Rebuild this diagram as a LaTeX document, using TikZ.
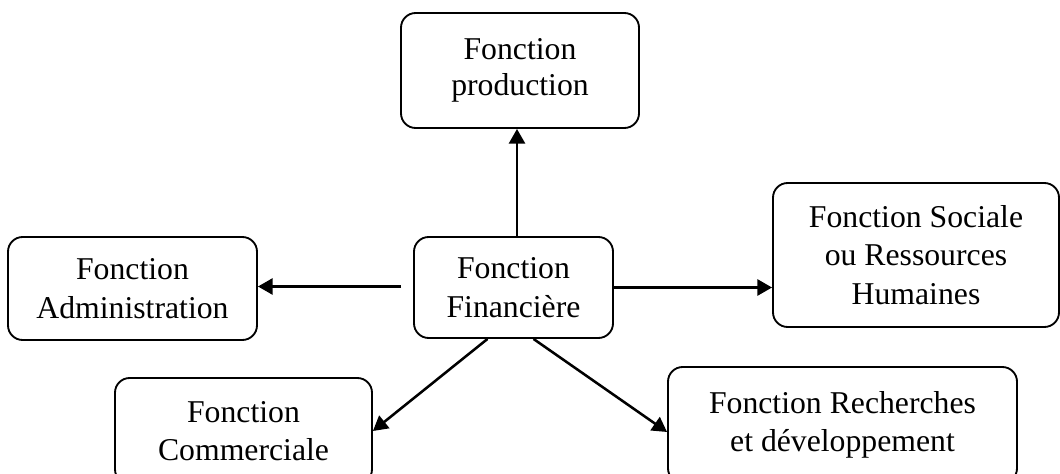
\documentclass[tikz,border=0pt]{standalone}
\usepackage{fontspec}
\setmainfont{Liberation Serif}
\usetikzlibrary{arrows.meta,calc}
\begin{document}
\begin{tikzpicture}[x=0.75pt,y=-0.75pt,
  fbox/.style={draw,line width=1.4pt,rounded corners=11pt,inner sep=0pt,align=center,
    font=\fontsize{23.8pt}{29pt}\selectfont},
  arr/.style={line width=1.9pt,-{Triangle[length=11pt,width=12pt]}}]
\useasboundingbox (0,0) rectangle (1060,474);
\clip (0,0) rectangle (1060,474);
\node[fbox,minimum width=178.5pt,minimum height=86.25pt,font=\fontsize{23.8pt}{27pt}\selectfont] (prod) at (520,70.5) {Fonction\\production};
\node[fbox,minimum width=214.5pt,minimum height=108pt] (soc) at (916,255) {Fonction Sociale\\ou Ressources\\Humaines};
\node[fbox,minimum width=186.75pt,minimum height=77.25pt] (adm) at (132.5,288.5) {Fonction\\Administration};
\node[fbox,minimum width=149.25pt,minimum height=75.75pt] (fin) at (513.5,287.5) {Fonction\\Financière};
\node[fbox,minimum width=192.75pt,minimum height=79.5pt] (com) at (243.5,431) {Fonction\\Commerciale};
\node[fbox,minimum width=261.75pt,minimum height=87pt] (rech) at (842.5,425) {Fonction Recherches\\et développement};
\coordinate (admstart) at ($(fin.west)+(-12,-1)$);
\coordinate (vstart) at ($(fin.north)+(3.5,0)$);
\draw[arr] (vstart) -- (vstart |- prod.south);
\draw[arr] (admstart) -- (admstart -| adm.east);
\draw[arr] (fin.east) -- (fin.east -| soc.west);
\draw[arr] ($(fin.south)+(-26,0)$) -- (com.east);
\draw[arr] ($(fin.south)+(20,0)$) -- ($(rech.west)+(0,7)$);
\end{tikzpicture}
\end{document}
